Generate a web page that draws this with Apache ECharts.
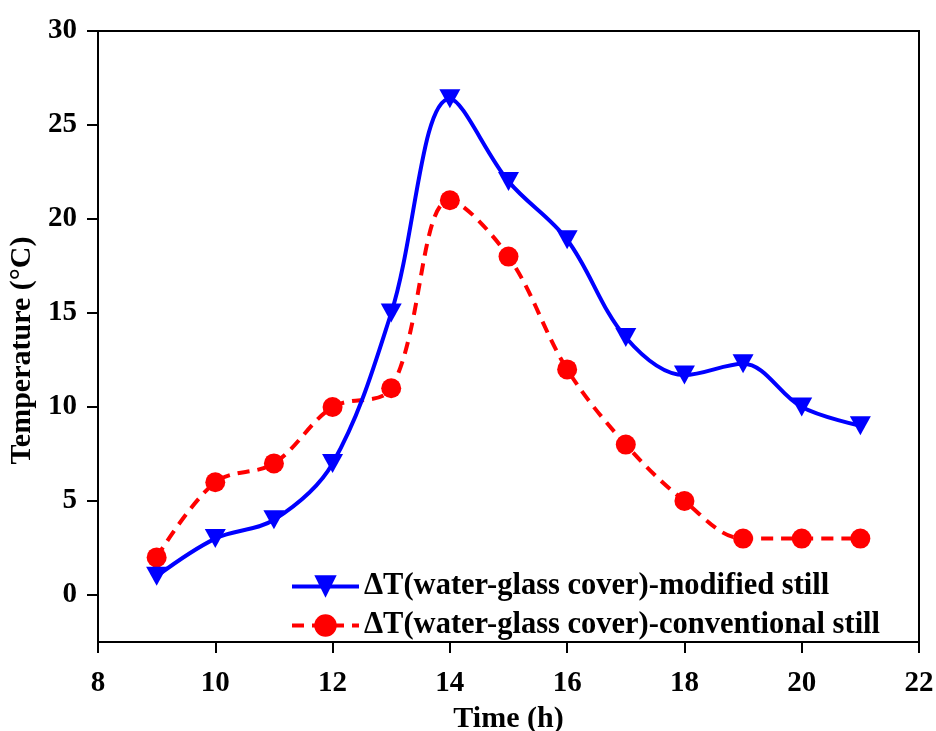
<!DOCTYPE html>
<html>
<head>
<meta charset="utf-8">
<script src="https://cdn.jsdelivr.net/npm/echarts@6/dist/echarts.min.js"></script>
<style>
  html, body { margin: 0; padding: 0; background: #ffffff; }
  #chart { width: 936px; height: 731px; }
</style>
</head>
<body>
<div id="chart"></div>
<script>
// Hours of the day
const hours = [9, 10, 11, 12, 13, 14, 15, 16, 17, 18, 19, 20, 21];
// Water – glass cover temperature difference (°C)
const modifiedStill = [1, 3, 4, 7, 15, 26.4, 22, 18.9, 13.7, 11.7, 12.3, 10, 9];
const conventionalStill = [2, 6, 7, 10, 11, 21, 18, 12, 8, 5, 3, 3, 3];
// Axis tick values
const xTicks = [8, 10, 12, 14, 16, 18, 20, 22];
const yTicks = [0, 5, 10, 15, 20, 25, 30];

const modifiedName = 'ΔT(water-glass cover)-modified still';
const conventionalName = 'ΔT(water-glass cover)-conventional still';

const font = '"Liberation Serif", "Times New Roman", serif';

const chart = echarts.init(document.getElementById('chart'), null, { renderer: 'canvas' });

const tickText = { color: '#000', fontFamily: font, fontWeight: 'bold', fontSize: 29 };
const titleText = { color: '#000', fontFamily: font, fontWeight: 'bold', fontSize: 30 };

chart.setOption({
  backgroundColor: '#ffffff',
  animation: false,
  grid: {
    left: 98, right: 17, top: 31, bottom: 89,
    outerBoundsMode: 'none', containLabel: false,
    show: true, borderColor: '#000', borderWidth: 2, backgroundColor: 'transparent'
  },
  legend: {
    orient: 'vertical',
    left: 285, top: 566,
    itemWidth: 67, itemHeight: 28, itemGap: 8,
    lineStyle: { width: 4 },
    textStyle: { color: '#000', fontFamily: font, fontWeight: 'bold', fontSize: 30.5 },
    data: [modifiedName, conventionalName]
  },
  xAxis: {
    type: 'value', min: 8, max: 22, interval: 2,
    name: 'Time (h)', nameLocation: 'middle', nameGap: 62,
    nameTextStyle: titleText,
    axisLine: { show: true, onZero: false, lineStyle: { color: '#000', width: 2 } },
    axisTick: { show: true, inside: false, length: 11, lineStyle: { color: '#000', width: 2 },
                customValues: xTicks },
    axisLabel: { ...tickText, margin: 27, customValues: xTicks },
    splitLine: { show: false }
  },
  yAxis: {
    type: 'value', min: -2.5, max: 30,
    name: 'Temperature (°C)', nameLocation: 'middle', nameGap: 58, nameRotate: 90,
    nameTextStyle: { ...titleText, padding: [0, 28, 0, 0] },
    axisLine: { show: true, onZero: false, lineStyle: { color: '#000', width: 2 } },
    axisTick: { show: true, inside: false, length: 11, lineStyle: { color: '#000', width: 2 },
                customValues: yTicks },
    axisLabel: { ...tickText, margin: 21, customValues: yTicks },
    splitLine: { show: false }
  },
  series: [
    {
      name: modifiedName,
      type: 'line',
      smooth: 0.35,
      data: hours.map((h, i) => [h, modifiedStill[i]]),
      symbol: 'triangle', symbolRotate: 180, symbolSize: [21, 19],
      lineStyle: { color: '#0000ff', width: 4 },
      itemStyle: { color: '#0000ff' },
      z: 3
    },
    {
      name: conventionalName,
      type: 'line',
      smooth: 0.35,
      data: hours.map((h, i) => [h, conventionalStill[i]]),
      symbol: 'circle', symbolSize: 20,
      lineStyle: { color: '#ff0000', width: 4, type: [12, 8] },
      itemStyle: { color: '#ff0000' },
      z: 2
    }
  ]
});
</script>
</body>
</html>
